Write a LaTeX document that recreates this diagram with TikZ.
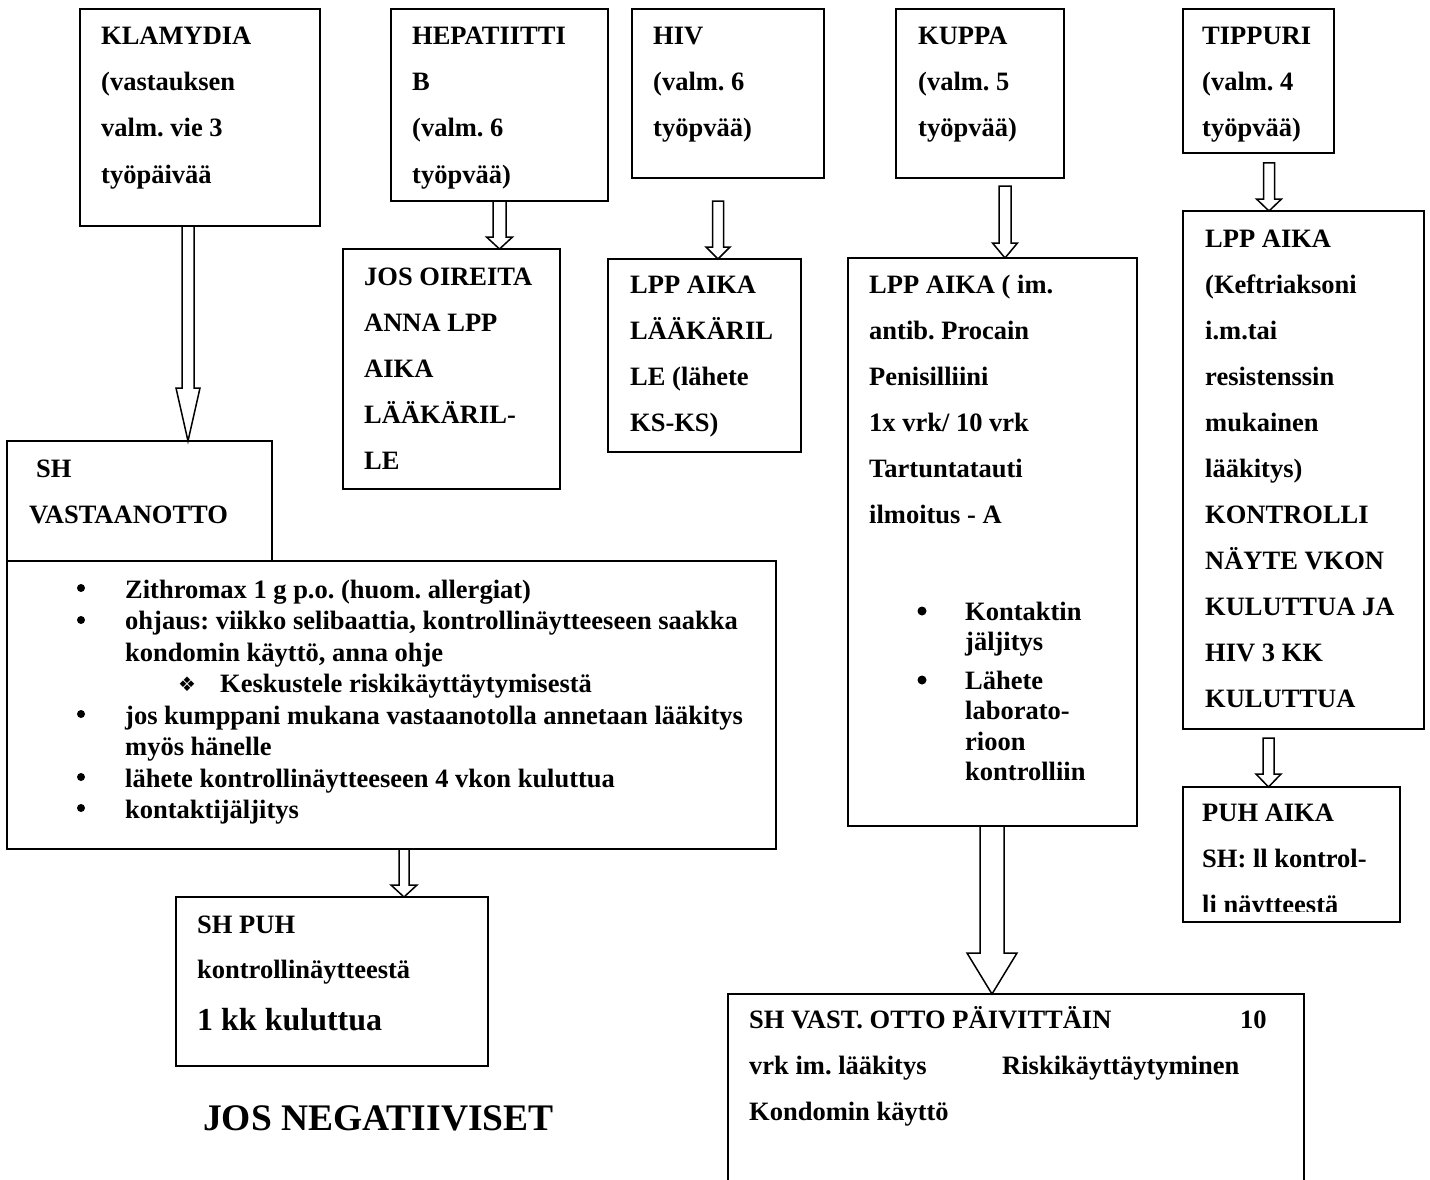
\documentclass[tikz,border=0pt]{standalone}
\usepackage{fontspec}
\setmainfont{Liberation Serif}
\newfontfamily\dejavu{DejaVu Sans}
\usetikzlibrary{calc}
% text lines: name, box, dx, first baseline dy, leading, lines
\newcommand\btext[6]{\foreach \thisline [count=\i] in {#6}{\node[txt] (#1\i) at ([shift={(#3,{#4+#5*(\i-1)})}]#2.north west) {\thisline};}}
% block arrow: from, to, x, shaft half, head half, head length, gap below source
\newcommand\barrow[7]{\draw[arr] let \p1=(#1.south -| #3,0), \p2=(#2.north -| #3,0) in
 (\x1-#4pt,\y1-#7pt) -- (\x1-#4pt,\y2+#6pt) -- (\x1-#5pt,\y2+#6pt) -- (\x1,\y2) -- (\x1+#5pt,\y2+#6pt) -- (\x1+#4pt,\y2+#6pt) -- (\x1+#4pt,\y1-#7pt) -- cycle;}
\begin{document}
\frenchspacing
\begin{tikzpicture}[x=1pt,y=-1pt,
  bx/.style={draw, line width=1.8pt, inner sep=0pt, outer sep=0pt, anchor=north west},
  txt/.style={inner sep=0pt, anchor=base west, font=\fontsize{26.5}{46}\selectfont\bfseries},
  arr/.style={draw, line width=1.5pt, line join=miter},
  dot/.style={circle, fill, inner sep=0pt, minimum size=#1},
  dot/.default=8pt]
\fill[white] (0,0) rectangle (1430,1180);
\useasboundingbox (0,0) rectangle (1430,1180);

% boxes
\node[bx, minimum width=240pt, minimum height=217pt] (klam) at (80,9) {};
\node[bx, minimum width=217pt, minimum height=192pt] (hep) at (391,9) {};
\node[bx, minimum width=192pt, minimum height=169pt] (hiv) at (632,9) {};
\node[bx, minimum width=168pt, minimum height=169pt] (kup) at (896,9) {};
\node[bx, minimum width=151pt, minimum height=144pt] (tip) at (1183,9) {};
\node[bx, minimum width=217pt, minimum height=240pt] (jos) at (343,249) {};
\node[bx, minimum width=193pt, minimum height=193pt] (lpa) at (608,259) {};
\node[bx, minimum width=289pt, minimum height=568pt] (lpb) at (848,258) {};
\node[bx, minimum width=241pt, minimum height=518pt] (lpc) at (1183,211) {};
\node[bx, minimum width=217pt, minimum height=135pt] (puh) at (1183,787) {};
\node[bx, minimum width=265pt, minimum height=120pt] (shv) at (7,441) {};
\node[bx, minimum width=769pt, minimum height=288pt] (lst) at (7,561) {};
\node[bx, minimum width=312pt, minimum height=169pt] (shp) at (176,897) {};
\node[bx, draw=none, minimum width=576pt, minimum height=200pt] (svo) at (728,994) {};
\draw[line width=1.8pt] (svo.south west) -- (svo.north west) -- (svo.north east) -- (svo.south east);

% arrows
\barrow{klam}{shv}{188}{6}{12}{53}{0}
\barrow{hep}{jos}{499.5}{6.5}{13}{12}{0}
\barrow{hiv}{lpa}{718}{5.5}{12}{12}{23}
\barrow{kup}{lpb}{1005}{6}{12.5}{15}{8}
\barrow{tip}{lpc}{1269}{5.5}{12.5}{12}{10}
\barrow{lpc}{puh}{1268.5}{5.5}{12.5}{13}{9}
\barrow{lst}{shp}{404}{5}{13}{12}{0}
\barrow{lpb}{svo}{992}{12}{25}{41}{0}

% texts
\btext{klamt}{klam}{21}{36}{46}{KLAMYDIA, {(vastauksen}, valm. vie 3, työpäivää}
\btext{hept}{hep}{21}{36}{46}{HEPATIITTI, B, {(valm. 6}, työpvää)}
\btext{hivt}{hiv}{21}{36}{46}{HIV, {(valm. 6}, työpvää)}
\btext{kupt}{kup}{22}{36}{46}{KUPPA, {(valm. 5}, työpvää)}
\btext{tipt}{tip}{19}{36}{46}{TIPPURI, {(valm. 4}, työpvää)}
\btext{jost}{jos}{21}{36}{46}{JOS OIREITA, ANNA LPP, AIKA, LÄÄKÄRIL-, LE}
\btext{lpat}{lpa}{22}{34}{46}{LPP AIKA, LÄÄKÄRIL, {LE (lähete}, KS-KS)}
\btext{lpbt}{lpb}{21}{35}{46}{{LPP AIKA ( im.}, antib. Procain, Penisilliini, 1x vrk/ 10 vrk, Tartuntatauti, ilmoitus - A}
\btext{lpbu}{lpb}{117}{362}{30.5}{Kontaktin, jäljitys}
\btext{lpbv}{lpb}{117}{431}{30.5}{Lähete, laborato-, rioon, kontrolliin}
\node[dot=9pt] (lpbd1) at ([shift={(74,353)}]lpb.north west) {};
\node[dot=9pt] (lpbd2) at ([shift={(74,422)}]lpb.north west) {};
\btext{lpct}{lpc}{22}{36}{46}{LPP AIKA, {(Keftriaksoni}, i.m.tai, resistenssin, mukainen, lääkitys), KONTROLLI, NÄYTE VKON, KULUTTUA JA, HIV 3 KK, KULUTTUA}
\begin{scope}
\clip (puh.north west) rectangle ([shift={(0,-11)}]puh.south east);
\btext{puht}{puh}{19}{34}{46}{PUH AIKA, SH: ll kontrol-, li näytteestä}
\end{scope}
\node[txt] (shvt1) at ([shift={(29,36)}]shv.north west) {SH};
\node[txt] (shvt2) at ([shift={(22,82)}]shv.north west) {VASTAANOTTO};

\btext{lsta}{lst}{118}{37}{31.5}{{Zithromax 1 g p.o. (huom. allergiat)}, {ohjaus: viikko selibaattia, kontrollinäytteeseen saakka}, {kondomin käyttö, anna ohje}}
\node[txt, font=\fontsize{20}{20}\dejavu] (lstsub) at ([shift={(171,130)}]lst.north west) {❖};
\btext{lstb}{lst}{213}{131}{31.5}{Keskustele riskikäyttäytymisestä}
\btext{lstc}{lst}{118}{163}{31.5}{jos kumppani mukana vastaanotolla annetaan lääkitys, myös hänelle, lähete kontrollinäytteeseen 4 vkon kuluttua, kontaktijäljitys}
\foreach \dy [count=\k] in {27,59,153,216,247}{\node[dot] (lstd\k) at ([shift={(74,\dy)}]lst.north west) {};}

\btext{shpt}{shp}{21}{36}{45}{SH PUH, kontrollinäytteestä}
\node[txt, font=\fontsize{32}{40}\selectfont\bfseries] (shpt3) at ([shift={(21,133)}]shp.north west) {1 kk kuluttua};

\node[txt, font=\fontsize{37.5}{44}\selectfont\bfseries] (neg) at (203,1130) {JOS NEGATIIVISET};

\btext{svot}{svo}{21}{34}{46}{SH VAST. OTTO PÄIVITTÄIN, vrk im. lääkitys, Kondomin käyttö}
\node[txt] (svo10) at ([shift={(512,34)}]svo.north west) {10};
\node[txt] (svor) at ([shift={(274,80)}]svo.north west) {Riskikäyttäytyminen};
\end{tikzpicture}
\end{document}
